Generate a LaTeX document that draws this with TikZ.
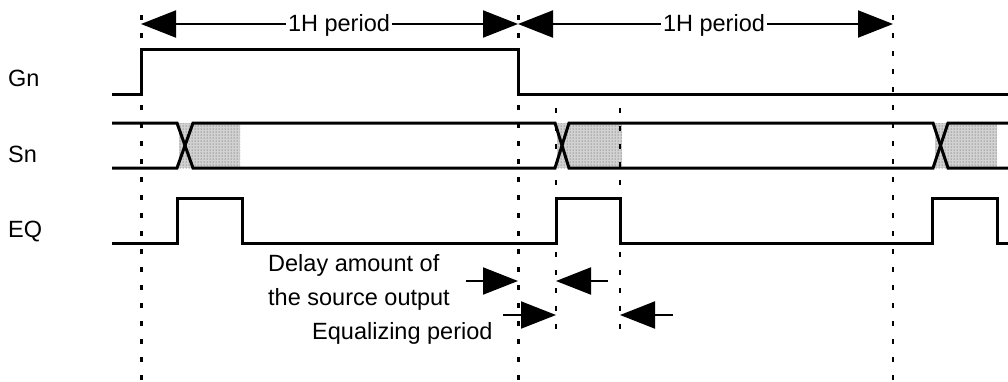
\documentclass[tikz,border=0pt]{standalone}
\usepackage{fontspec}
\setmainfont{Liberation Sans}
\usetikzlibrary{arrows.meta,patterns}
\tikzset{sig/.style={line width=3pt,line join=miter},
  guide/.style={line width=3pt,dash pattern=on 5pt off 13pt},
  tip/.tip={Triangle[length=35pt,width=27pt]},
  dim/.style={line width=2pt,tip-tip},
  pointer/.style={line width=2pt,-tip},
  lbl/.style={inner sep=0pt,font=\fontsize{23.5}{28}\selectfont},
  period/.style={lbl,fill=white,inner xsep=2pt},
  busfill/.style={fill=gray!35,postaction={pattern=dots,pattern color=black!75}}}
\begin{document}
\begin{tikzpicture}[x=1pt,y=-1pt]
\useasboundingbox (0,0) rectangle (1008,381);
% stippled bus data
\foreach \a/\b in {179/240,557/622,935/997}
  \fill[busfill] (\a,123) rectangle (\b,168);
% timing guides
\coordinate (ga) at (141,15); \coordinate (gaa) at (141,381);
\coordinate (gb) at (518,15); \coordinate (gbb) at (518,381);
\coordinate (gc) at (893,15); \coordinate (gcc) at (893,381);
\coordinate (gd) at (556,108); \coordinate (gdd) at (556,337);
\coordinate (ge) at (620,108); \coordinate (gee) at (620,337);
\draw[guide] (ga)--(gaa); \draw[guide] (gb)--(gbb); \draw[guide,line width=2.4pt] (gc)--(gcc);
\draw[guide,line width=2.4pt] (gd)--(gdd); \draw[guide,line width=2.4pt] (ge)--(gee);
% signal names
\node[lbl,anchor=base west] (gn) at (8,86) {Gn};
\node[lbl,anchor=base west] (sn) at (8,162) {Sn};
\node[lbl,anchor=base west] (eq) at (8,237) {EQ};
% waveforms
\draw[sig] (112,94) -- (141,94) -- (141,49) -- (518,49) -- (518,94) -- (1008,94);
\draw[sig] (112,123) -- (177,123) -- (193,168) -- (555,168) -- (569,123) -- (933,123) -- (948,168) -- (1008,168);
\draw[sig] (112,168) -- (177,168) -- (193,123) -- (555,123) -- (569,168) -- (933,168) -- (948,123) -- (1008,123);
\draw[sig] (112,243) -- (177,243) -- (177,198) -- (242,198) -- (242,243) -- (556,243) -- (556,198) -- (620,198)
  -- (620,243) -- (932,243) -- (932,198) -- (997,198) -- (997,243) -- (1008,243);
% 1H periods
\coordinate (pa) at (141,24); \coordinate (pb) at (518,24); \coordinate (pc) at (893,24);
\draw[dim] (pa)--(pb);
\draw[dim] (pb)--(pc);
\node[period,anchor=base] (ha) at (339,31) {1H period};
\node[period,anchor=base] (hb) at (714,31) {1H period};
% delay and equalizing
\coordinate (da) at (466,281); \coordinate (db) at (518,281);
\coordinate (dc) at (608,281); \coordinate (dd) at (556,281);
\coordinate (ea) at (503,315); \coordinate (eb) at (556,315);
\coordinate (ec) at (673,315); \coordinate (ed) at (620,315);
\draw[pointer] (da)--(db); \draw[pointer] (dc)--(dd);
\draw[pointer] (ea)--(eb); \draw[pointer] (ec)--(ed);
\node[lbl,anchor=base west] (delay) at (268,271) {Delay amount of};
\node[lbl,anchor=base west] (src) at (268,305) {the source output};
\node[lbl,anchor=base west] (equ) at (312,339) {Equalizing period};
\end{tikzpicture}
\end{document}
